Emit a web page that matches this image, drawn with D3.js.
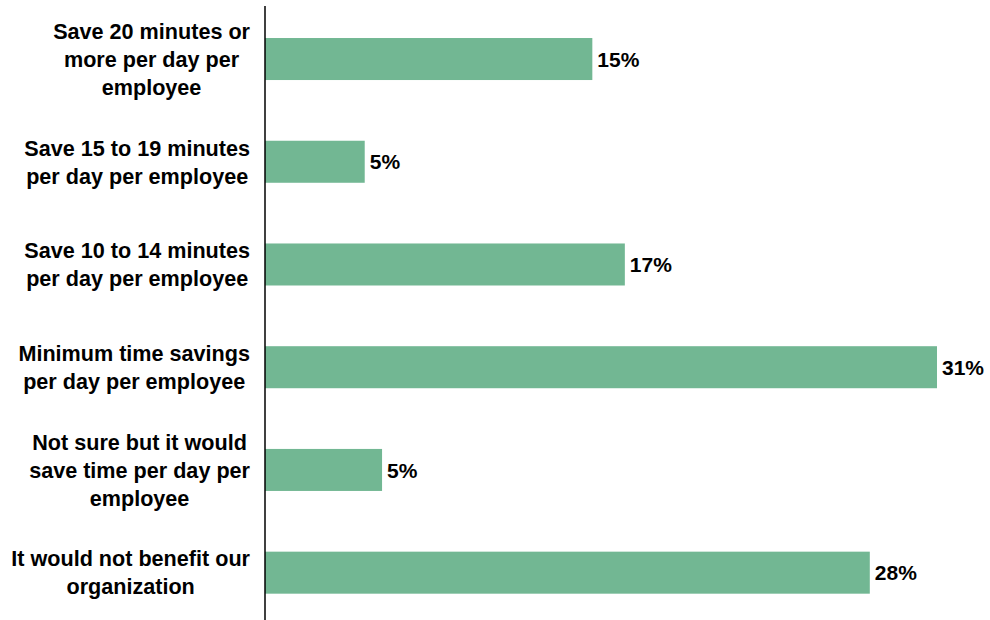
<!DOCTYPE html>
<html><head><meta charset="utf-8">
<script src="https://cdn.jsdelivr.net/npm/d3@7"></script>
<style>
html,body{margin:0;padding:0;background:#fff;}
text{font-family:"Liberation Sans",Arial,sans-serif;font-weight:bold;fill:#000;}
</style></head>
<body>
<svg id="chart" width="990" height="620"></svg>
<script>
const categories = [
  ["Save 20 minutes or", "more per day per", "employee"],
  ["Save 15 to 19 minutes", "per day per employee"],
  ["Save 10 to 14 minutes", "per day per employee"],
  ["Minimum time savings", "per day per employee"],
  ["Not sure but it would", "save time per day per", "employee"],
  ["It would not benefit our", "organization"]
];
const values = [15.1, 4.6, 16.6, 31.0, 5.4, 27.9];
const valueLabels = ["15%", "5%", "17%", "31%", "5%", "28%"];

const svg = d3.select("#chart");
const axisX = 265;
const x = d3.scaleLinear().domain([0, 31]).range([axisX, 937]);
const ids = categories.map((c, i) => i);
const y = d3.scaleBand().domain(ids).range([7.2, 624.5]).paddingInner(0.591).paddingOuter(0.3);

svg.selectAll("rect.bar").data(values).enter().append("rect")
  .attr("class", "bar")
  .attr("x", x(0))
  .attr("y", (d, i) => y(i))
  .attr("width", d => x(d) - x(0))
  .attr("height", y.bandwidth())
  .attr("fill", "#72b793");

svg.append("line")
  .attr("x1", axisX).attr("x2", axisX)
  .attr("y1", 6).attr("y2", 620)
  .attr("stroke", "#000").attr("stroke-width", 1.5);

svg.selectAll("text.val").data(values).enter().append("text")
  .attr("class", "val")
  .attr("x", d => x(d) + 5)
  .attr("y", (d, i) => y(i) + y.bandwidth() / 2)
  .attr("dy", "0.36em")
  .style("font-size", "21px")
  .text((d, i) => valueLabels[i]);

const lineH = 28;
const rightEdge = 250;
categories.forEach((lines, i) => {
  const cy = y(i) + y.bandwidth() / 2;
  const t = svg.append("text").style("font-size", "21.6px").attr("text-anchor", "middle");
  const spans = lines.map((ln, j) => t.append("tspan")
    .attr("y", cy + (j - (lines.length - 1) / 2) * lineH)
    .attr("dy", "0.36em")
    .text(ln));
  const maxW = d3.max(spans, s => s.node().getComputedTextLength());
  spans.forEach(s => s.attr("x", rightEdge - maxW / 2));
});
</script>
</body></html>
